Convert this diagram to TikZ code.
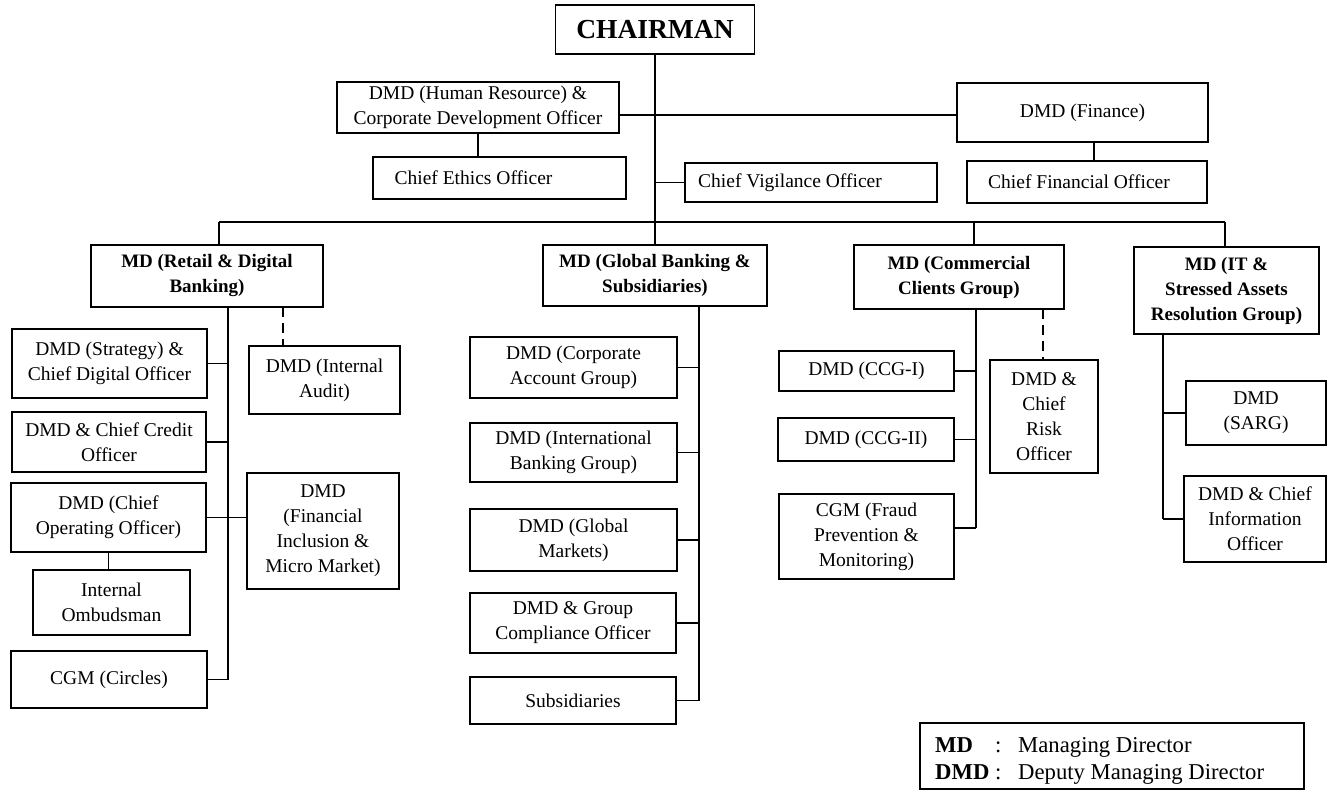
\documentclass[tikz,border=0pt]{standalone}
\usepackage{fontspec}
\setmainfont{Liberation Serif}
\begin{document}
\begin{tikzpicture}[x=1pt,y=-1pt,
  box/.style={draw, line width=1.9pt, inner sep=0pt, align=center, fill=white,
    font=\fontsize{19.5}{25}\selectfont},
  mdbox/.style={box, font=\fontsize{19}{25}\selectfont\bfseries},
  ln/.style={line width=1.9pt},
  dln/.style={line width=1.9pt, dash pattern=on 10pt off 6pt},
  legtxt/.style={anchor=base west, inner sep=0pt, font=\fontsize{22.7}{29}\selectfont},
  legbold/.style={legtxt, font=\fontsize{22.7}{29}\selectfont\bfseries}]
\useasboundingbox (0,0) rectangle (1338,791);

% top level
\node[box, minimum width=199pt, minimum height=49pt, font=\fontsize{27.5}{30}\selectfont\bfseries] (chair) at (655,29.5) {CHAIRMAN};
\node[box, minimum width=282pt, minimum height=51pt] (hr) at (478,107.5) {DMD (Human Resource) \&\\Corporate Development Officer};
\node[box, minimum width=251pt, minimum height=59pt] (fin) at (1082.5,112.5) {DMD (Finance)};
\node[box, minimum width=253pt, minimum height=42pt] (ethics) at (499.5,178) {Chief Ethics Officer\hspace*{52pt}};
\node[box, minimum width=252pt, minimum height=39pt] (vig) at (811,182.5) {Chief Vigilance Officer\hspace*{42pt}};
\node[box, minimum width=240pt, minimum height=42pt] (cfo) at (1087,182) {Chief Financial Officer\hspace*{16pt}};

% MD boxes
\node[mdbox, minimum width=232pt, minimum height=62pt] (retail) at (207,276) {MD (Retail \& Digital\\Banking)};
\node[mdbox, minimum width=224pt, minimum height=61pt] (global) at (655,275.5) {MD (Global Banking \&\\Subsidiaries)};
\node[mdbox, minimum width=210pt, minimum height=64pt] (comm) at (959,277) {MD (Commercial\\Clients Group)};
\node[mdbox, minimum width=185pt, minimum height=87pt] (it) at (1226.5,290.5) {MD (IT \&\\Stressed Assets\\Resolution Group)};

% retail branch
\node[box, minimum width=195pt, minimum height=69pt] (strat) at (109.5,363.5) {DMD (Strategy) \&\\Chief Digital Officer};
\node[box, minimum width=151pt, minimum height=68pt] (audit) at (324.5,380) {DMD (Internal\\Audit)};
\node[box, minimum width=194pt, minimum height=60pt] (credit) at (109,442) {DMD \& Chief Credit\\Officer};
\node[box, minimum width=195pt, minimum height=69pt] (coo) at (108.5,517.5) {DMD (Chief\\Operating Officer)};
\node[box, minimum width=152pt, minimum height=116pt] (finincl) at (323,531) {DMD\\(Financial\\Inclusion \&\\Micro Market)};
\node[box, minimum width=157pt, minimum height=65pt] (ombud) at (111.5,602.5) {Internal\\Ombudsman};
\node[box, minimum width=196pt, minimum height=57pt] (circles) at (109,679.5) {CGM (Circles)};

% global branch
\node[box, minimum width=207pt, minimum height=61pt] (corp) at (573.5,367.5) {DMD (Corporate\\Account Group)};
\node[box, minimum width=207pt, minimum height=59pt] (intl) at (573.5,452.5) {DMD (International\\Banking Group)};
\node[box, minimum width=207pt, minimum height=62pt] (gm) at (573.5,540) {DMD (Global\\Markets)};
\node[box, minimum width=206pt, minimum height=60pt] (comp) at (573,623) {DMD \& Group\\Compliance Officer};
\node[box, minimum width=206pt, minimum height=47pt] (subs) at (573,700.5) {Subsidiaries};

% commercial branch
\node[box, minimum width=175pt, minimum height=40pt] (ccga) at (866.5,371) {DMD (CCG-I)};
\node[box, minimum width=176pt, minimum height=43pt] (ccgb) at (866,439.5) {DMD (CCG-II)};
\node[box, minimum width=175pt, minimum height=85pt] (fraud) at (866.5,536.5) {CGM (Fraud\\Prevention \&\\Monitoring)};
\node[box, minimum width=108pt, minimum height=113pt] (risk) at (1044,416.5) {DMD \&\\Chief\\Risk\\Officer};

% IT branch
\node[box, minimum width=140pt, minimum height=64pt] (sarg) at (1256,413) {DMD\\(SARG)};
\node[box, minimum width=142pt, minimum height=86pt] (info) at (1255,519) {DMD \& Chief\\Information\\Officer};

% legend
\node[draw, line width=1.9pt, inner sep=0pt, minimum width=384pt, minimum height=66pt] (legend) at (1112,756) {};
\node[legbold] (lmd) at (935,752) {MD};
\node[legtxt] (lc1) at (995,752) {:};
\node[legtxt] (lt1) at (1018,752) {Managing Director};
\node[legbold] (ldmd) at (935,779) {DMD};
\node[legtxt] (lc2) at (995,779) {:};
\node[legtxt] (lt2) at (1018,779) {Deputy Managing Director};

% coordinates
\coordinate (hl) at (655,115);
\coordinate (busL) at (219,222);
\coordinate (busC) at (974,222);
\coordinate (busR) at (1225,222);
\coordinate (rtr) at (228,307);
\coordinate (rdash) at (283,307);
\coordinate (gtr) at (699,306);
\coordinate (ctr) at (976,309);
\coordinate (cdash) at (1043,309);
\coordinate (itr) at (1163,334);
\coordinate (finc) at (1094,142);
\coordinate (fraudc) at ([yshift=8.5pt]fraud.east);

% top connectors
\draw[ln] (chair.south) -- (global.north);
\draw[ln] (hr.east |- hl) -- (fin.west |- hl);
\draw[ln] (hr.south) -- (hr.south |- ethics.north);
\draw[ln] (finc) -- (finc |- cfo.north);
\draw[ln] (vig.west) -- (vig.west -| chair.south);
\draw[ln] (busL) -- (busR);
\draw[ln] (busL) -- (busL |- retail.north);
\draw[ln] (busC) -- (busC |- comm.north);
\draw[ln] (busR) -- (busR |- it.north);

% retail connectors
\draw[ln] (rtr) -- (rtr |- circles.east);
\draw[dln] (rdash) -- (rdash |- audit.north);
\draw[ln] (strat.east) -- (strat.east -| rtr);
\draw[ln] (credit.east) -- (credit.east -| rtr);
\draw[ln] (coo.east) -- (finincl.west |- coo.east);
\draw[ln] (circles.east) -- (circles.east -| rtr);
\draw[ln] (coo.south) -- (coo.south |- ombud.north);

% global connectors
\draw[ln] (gtr) -- (gtr |- subs.east);
\foreach \n in {corp,intl,gm,comp,subs} \draw[ln] (\n.east) -- (\n.east -| gtr);

% commercial connectors
\draw[ln] (ctr) -- (ctr |- fraudc);
\draw[dln] (cdash) -- (cdash |- risk.north);
\draw[ln] (ccga.east) -- (ccga.east -| ctr);
\draw[ln] (ccgb.east) -- (ccgb.east -| ctr);
\draw[ln] (fraudc) -- (fraudc -| ctr);

% IT connectors
\draw[ln] (itr) -- (itr |- info.west);
\draw[ln] (sarg.west) -- (sarg.west -| itr);
\draw[ln] (info.west) -- (info.west -| itr);
\end{tikzpicture}
\end{document}
